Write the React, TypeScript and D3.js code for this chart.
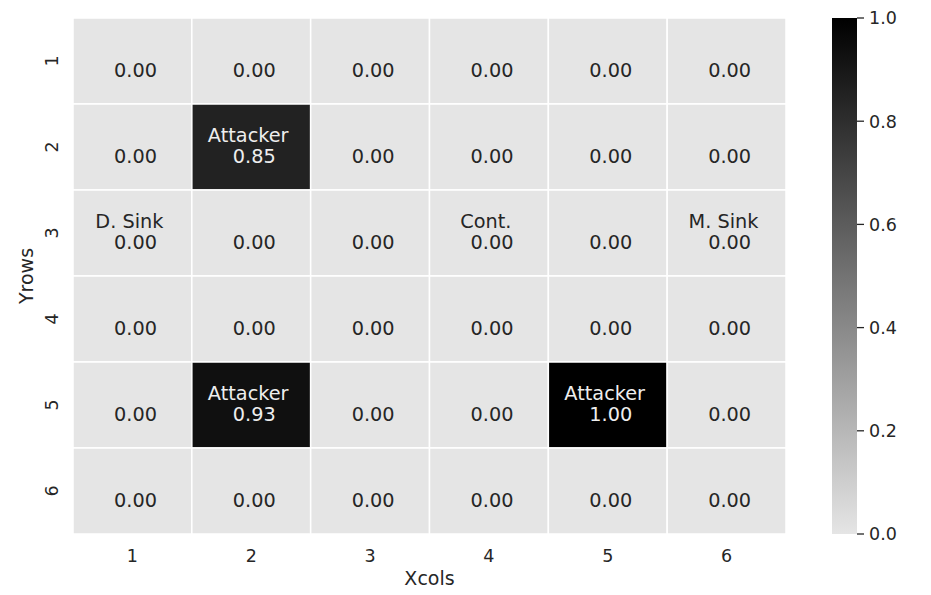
import React from 'react';
import { scaleBand, scaleLinear, interpolateRgb, range } from 'd3';

const cols = ['1', '2', '3', '4', '5', '6'];
const rows = ['1', '2', '3', '4', '5', '6'];

// values[row][col]
const values = [
  [0, 0, 0, 0, 0, 0],
  [0, 0.85, 0, 0, 0, 0],
  [0, 0, 0, 0, 0, 0],
  [0, 0, 0, 0, 0, 0],
  [0, 0.93, 0, 0, 1.0, 0],
  [0, 0, 0, 0, 0, 0],
];

const names = [
  ['', '', '', '', '', ''],
  ['', 'Attacker', '', '', '', ''],
  ['D. Sink', '', '', 'Cont.', '', 'M. Sink'],
  ['', '', '', '', '', ''],
  ['', 'Attacker', '', '', 'Attacker', ''],
  ['', '', '', '', '', ''],
];

const cbarTicks = [0, 0.2, 0.4, 0.6, 0.8, 1.0];

const font = 'DejaVu Sans, sans-serif';
const ink = '#262626';

export default function App() {
  const width = 931, height = 595;
  const left = 73, right = 786, top = 18, bottom = 534;

  const x = scaleBand<string>().domain(cols).range([left, right]);
  const y = scaleBand<string>().domain(rows).range([top, bottom]);
  const color = scaleLinear<string>().domain([0, 1]).range(['#e5e5e5', '#000000']).interpolate(interpolateRgb);

  const cbX = 832, cbW = 25;
  const cbY = scaleLinear().domain([0, 1]).range([bottom, top]);
  const stops = range(0, 1.0001, 0.1);

  return (
    <svg width={width} height={height} style={{ position: 'absolute', left: 0, top: 0, fontFamily: font }}>
      <rect width={width} height={height} fill="#fff" />
      <defs>
        <linearGradient id="cbar" x1="0" y1="1" x2="0" y2="0">
          {stops.map(s => <stop key={s} offset={s} stopColor={color(s)} />)}
        </linearGradient>
      </defs>

      {values.map((row, ri) => row.map((v, ci) => {
        const cx = x(cols[ci])! + x.bandwidth() / 2;
        const cy = y(rows[ri])! + y.bandwidth() / 2;
        const txt = v > 0.5 ? '#eeeeee' : ink;
        return (
          <g key={`${ri}-${ci}`}>
            <rect x={x(cols[ci])} y={y(rows[ri])} width={x.bandwidth()} height={y.bandwidth()}
              fill={color(v)} stroke="#fff" strokeWidth={1.5} />
            <text fontSize={19.3} fill={txt} textAnchor="middle" style={{ whiteSpace: 'pre' }}>
              {names[ri][ci] && <tspan x={cx} y={cy - 5.5}>{names[ri][ci] + ' '}</tspan>}
              <tspan x={cx} y={cy + 16}>{' ' + v.toFixed(2)}</tspan>
            </text>
          </g>
        );
      }))}

      {cols.map(c => (
        <text key={c} x={x(c)! + x.bandwidth() / 2} y={561.5} fontSize={17.5} fill={ink} textAnchor="middle">{c}</text>
      ))}
      {rows.map(r => (
        <text key={r} transform={`translate(57.5,${y(r)! + y.bandwidth() / 2}) rotate(-90)`} fontSize={17.5} fill={ink} textAnchor="middle">{r}</text>
      ))}
      <text x={(left + right) / 2} y={585} fontSize={19} fill={ink} textAnchor="middle">Xcols</text>
      <text transform={`translate(32.5,${(top + bottom) / 2}) rotate(-90)`} fontSize={19} fill={ink} textAnchor="middle">Yrows</text>

      <rect x={cbX} y={top} width={cbW} height={bottom - top} fill="url(#cbar)" />
      {cbarTicks.map(t => (
        <g key={t} transform={`translate(${cbX + cbW},${cbY(t)})`}>
          <line x1={0} x2={7} y1={0} y2={0} stroke={ink} strokeWidth={1.3} />
          <text x={12} y={6.3} fontSize={17.5} fill={ink}>{t.toFixed(1)}</text>
        </g>
      ))}
    </svg>
  );
}
